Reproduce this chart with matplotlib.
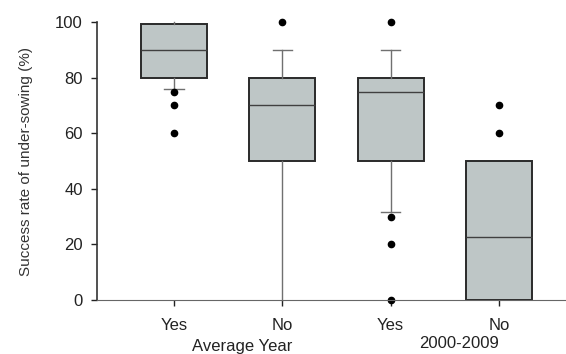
import matplotlib
matplotlib.use("Agg")
import matplotlib.pyplot as plt

plt.rcParams["font.family"] = ["Liberation Sans", "DejaVu Sans"]

# box statistics (success rate, %)
tick_labels = ["Yes", "No", "Yes", "No"]
group_labels = ["Average Year", "2000-2009"]
q1 = [80, 50, 50, 0]
med = [90, 70, 75, 22.5]
q3 = [99.3, 80, 80, 50]
whislo = [76, 0, 31.5, 0]
whishi = [100, 90, 90, 50]
fliers = [[75, 70, 60], [100], [100, 30, 20, 0], [70, 60]]

stats = []
for i in range(len(tick_labels)):
    stats.append({
        "q1": q1[i], "med": med[i], "q3": q3[i],
        "whislo": whislo[i], "whishi": whishi[i],
        "fliers": fliers[i], "label": tick_labels[i],
    })

fig = plt.figure(figsize=(5.66, 3.54), dpi=100)
ax = fig.add_axes([0.171, 0.1525, 0.829, 0.7853])

bp = ax.bxp(
    stats, positions=[1, 2, 3, 4], widths=0.61, patch_artist=True,
    boxprops=dict(facecolor="#bec6c6", edgecolor="#2a2a2a", linewidth=1.4),
    medianprops=dict(color="#404040", linewidth=1.0),
    whiskerprops=dict(color="#707070", linewidth=1.0),
    capprops=dict(color="#707070", linewidth=1.0),
    flierprops=dict(marker="o", markerfacecolor="black", markeredgecolor="black", markersize=4.5),
)
# caps only where the reference shows them
cap_w = 0.18
shown = {(1, 0), (3, 0), (2, 1), (3, 1)}
for i, c in enumerate(bp["caps"]):
    pos = i // 2 + 1
    if (pos, i % 2) in shown:
        c.set_xdata([pos - cap_w / 2, pos + cap_w / 2])
    else:
        c.set_xdata([pos, pos])
for artist_list in bp.values():
    for a in artist_list:
        a.set_clip_on(False)

ax.set_xlim(0.287, 4.62)
ax.set_ylim(0, 100)
ax.set_yticks([0, 20, 40, 60, 80, 100])
ax.set_xticks([1, 2, 3, 4])
ax.set_xticklabels(tick_labels)
ax.tick_params(axis="both", labelsize=12, colors="#222222", length=4, width=1.0)
ax.tick_params(axis="x", pad=9)
ax.tick_params(axis="y", pad=6)
ax.spines["top"].set_visible(False)
ax.spines["right"].set_visible(False)
ax.spines["left"].set_color("#333333")
ax.spines["bottom"].set_color("#666666")
ax.spines["left"].set_linewidth(1.2)
ax.set_ylabel("Success rate of under-sowing (%)", fontsize=11, color="#333333", labelpad=16)

ax.text(1.63, -0.169, group_labels[0], transform=ax.get_xaxis_transform(),
        ha="center", va="center", fontsize=12, color="#222222")
ax.text(3.63, -0.155, group_labels[1], transform=ax.get_xaxis_transform(),
        ha="center", va="center", fontsize=12, color="#222222")

plt.savefig("out.png", dpi=100)
